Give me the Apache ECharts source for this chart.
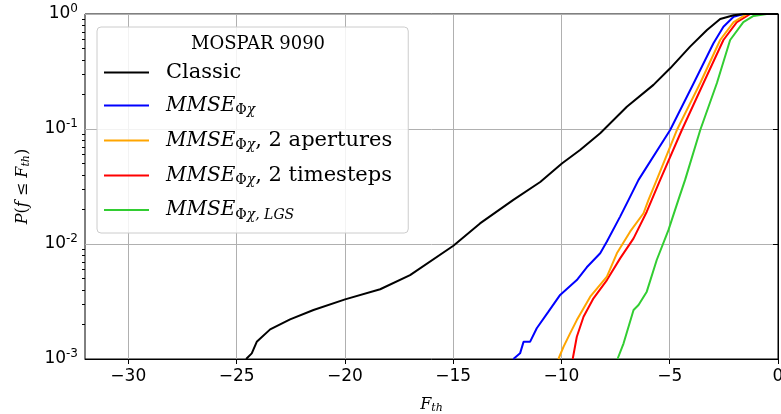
<!DOCTYPE html>
<html>
<head>
<meta charset="utf-8">
<script src="https://cdn.jsdelivr.net/npm/echarts@6/dist/echarts.min.js"></script>
<style>
  html, body { margin: 0; padding: 0; background: #fff; }
  #chart { width: 781px; height: 414px; }
</style>
</head>
<body>
<div id="chart"></div>
<script>
const classicX = [-24.56, -24.3, -24.07, -23.45, -22.53, -21.45, -19.99, -18.37, -16.99, -14.99, -13.76, -12.22, -10.98, -9.98, -9.14, -8.21, -6.98, -5.75, -4.98, -4.06, -3.28, -2.67, -2.05, -1.6, 0];
const classicP = [0.001, 0.00112, 0.00141, 0.00181, 0.00221, 0.00267, 0.0033, 0.00404, 0.00537, 0.00966, 0.0151, 0.0242, 0.0346, 0.0501, 0.0656, 0.0918, 0.156, 0.242, 0.337, 0.52, 0.726, 0.906, 0.975, 1.0, 1.0];

const mmseX = [-12.22, -11.91, -11.75, -11.45, -11.14, -10.6, -10.06, -9.29, -8.83, -8.21, -7.9, -7.29, -6.9, -6.44, -4.98, -3.9, -2.98, -2.52, -2.05, -1.6, 0];
const mmseP = [0.001, 0.00112, 0.00141, 0.00141, 0.00185, 0.00258, 0.00361, 0.00486, 0.00627, 0.0083, 0.0105, 0.0173, 0.0242, 0.0361, 0.098, 0.249, 0.556, 0.776, 0.948, 1.0, 1.0];

const apertX = [-10.14, -9.9, -9.6, -9.29, -8.67, -7.9, -7.44, -6.83, -6.21, -5.98, -5.6, -4.67, -3.59, -2.67, -2.05, -1.44, 0];
const apertP = [0.001, 0.00128, 0.00167, 0.00218, 0.00348, 0.0052, 0.0083, 0.0128, 0.0185, 0.0242, 0.0361, 0.098, 0.251, 0.594, 0.851, 1.0, 1.0];

const tstepX = [-9.48, -9.29, -8.98, -8.52, -7.9, -7.29, -6.67, -6.06, -5.83, -5.44, -4.44, -3.44, -2.52, -1.9, -1.28, 0];
const tstepP = [0.001, 0.00156, 0.00233, 0.00337, 0.00486, 0.0075, 0.0112, 0.0191, 0.0242, 0.0361, 0.098, 0.251, 0.594, 0.851, 1.0, 1.0];

const lgsX = [-7.41, -7.13, -6.67, -6.44, -6.06, -5.6, -5.06, -4.6, -4.29, -3.59, -2.82, -2.21, -1.6, -1.13, -0.52, 0];
const lgsP = [0.001, 0.00137, 0.00267, 0.00295, 0.00385, 0.00726, 0.0132, 0.0242, 0.0361, 0.098, 0.251, 0.594, 0.851, 0.962, 1.0, 1.0];

const xTicks = [-30, -25, -20, -15, -10, -5, 0];
const yTicks = [0.001, 0.01, 0.1, 1];
const yMinor = [0.002, 0.003, 0.004, 0.005, 0.006, 0.007, 0.008, 0.009,
                0.02, 0.03, 0.04, 0.05, 0.06, 0.07, 0.08, 0.09,
                0.2, 0.3, 0.4, 0.5, 0.6, 0.7, 0.8, 0.9];

const names = ['Classic', 'MMSE', 'MMSE2ap', 'MMSE2ts', 'MMSELGS'];
const colors = ['#000000', '#0000ff', '#ffa500', '#ff0000', '#32cd32'];

function pairs(xs, ps) {
  return xs.map((x, i) => [x, ps[i]]);
}

const serif = 'DejaVu Serif';
const sans = 'DejaVu Sans';

const legendLabels = {
  Classic: '{n|Classic}',
  MMSE: '{m|MMSE}{p|Φ}{c|χ}',
  MMSE2ap: '{m|MMSE}{p|Φ}{c|χ}{n|, 2 apertures}',
  MMSE2ts: '{m|MMSE}{p|Φ}{c|χ}{n|, 2 timesteps}',
  MMSELGS: '{m|MMSE}{p|Φ}{c|χ, LGS}'
};

let chart = echarts.init(document.getElementById('chart'));

const seriesData = [
  pairs(classicX, classicP),
  pairs(mmseX, mmseP),
  pairs(apertX, apertP),
  pairs(tstepX, tstepP),
  pairs(lgsX, lgsP)
];

chart.setOption({
  animation: false,
  grid: {
    left: 85, right: 3, top: 14, bottom: 55,
    outerBoundsMode: 'none',
    containLabel: false,
    show: true,
    borderColor: '#000',
    borderWidth: 1
  },
  title: {
    text: 'MOSPAR 9090',
    left: 253,
    top: 30,
    textAlign: 'center',
    textStyle: {
      fontFamily: serif,
      fontWeight: 'normal',
      fontSize: 18,
      color: '#000'
    },
    z: 10
  },
  legend: {
    orient: 'vertical',
    left: 97,
    top: 27,
    padding: [35, 16, 11, 7],
    icon: 'rect',
    itemWidth: 45,
    itemHeight: 2,
    itemGap: 12.5,
    backgroundColor: 'rgba(255,255,255,0.85)',
    borderColor: '#cccccc',
    borderWidth: 1,
    borderRadius: 4,
    data: names,
    formatter: n => legendLabels[n],
    textStyle: {
      color: '#000',
      padding: [0, 0, 0, 12],
      rich: {
        n: { fontFamily: serif, fontSize: 21, color: '#000', lineHeight: 24 },
        m: { fontFamily: serif, fontStyle: 'italic', fontSize: 20, color: '#000', lineHeight: 24 },
        p: { fontFamily: serif, fontSize: 14, color: '#000', padding: [10, 0, 0, 0] },
        c: { fontFamily: serif, fontStyle: 'italic', fontSize: 14, color: '#000', padding: [10, 0, 0, 0] }
      }
    }
  },
  xAxis: {
    type: 'value',
    min: -32,
    max: 0,
    name: '{i|F}{s|th}',
    nameLocation: 'middle',
    nameGap: 36,
    nameTextStyle: {
      rich: {
        i: { fontFamily: serif, fontStyle: 'italic', fontSize: 16, color: '#000' },
        s: { fontFamily: serif, fontStyle: 'italic', fontSize: 11, color: '#000', padding: [8, 0, 0, 0] }
      }
    },
    axisLine: { onZero: false, lineStyle: { color: '#000', width: 1 } },
    axisTick: { show: true, length: 5, customValues: xTicks, lineStyle: { color: '#000' } },
    axisLabel: {
      customValues: xTicks,
      margin: 9,
      fontFamily: sans,
      fontSize: 17,
      color: '#000',
      formatter: v => String(v).replace('-', '\u2212')
    },
    splitLine: { show: true, lineStyle: { color: '#b0b0b0', width: 1 } }
  },
  yAxis: [
    {
      type: 'log',
      logBase: 10,
      min: 0.001,
      max: 1,
      name: '{i|P}{r|(}{i|f}{r| ≤ }{i|F}{s|th}{r|)}',
      nameLocation: 'middle',
      nameGap: 53,
      nameRotate: 90,
      nameTextStyle: {
        rich: {
          i: { fontFamily: serif, fontStyle: 'italic', fontSize: 16, color: '#000' },
          r: { fontFamily: serif, fontSize: 16, color: '#000' },
          s: { fontFamily: serif, fontStyle: 'italic', fontSize: 11, color: '#000', padding: [8, 0, 0, 0] }
        }
      },
      axisLine: { show: true, lineStyle: { color: '#000', width: 1 } },
      axisTick: { show: true, length: 5, customValues: yTicks, lineStyle: { color: '#000' } },
      axisLabel: {
        customValues: yTicks,
        margin: 7,
        formatter: v => '{b|10}{e|' + Math.round(Math.log10(v)) + '}',
        rich: {
          b: { fontFamily: sans, fontSize: 17, color: '#000' },
          e: { fontFamily: sans, fontSize: 12, color: '#000', padding: [0, 0, 10, 0] }
        }
      },
      splitLine: { show: true, lineStyle: { color: '#b0b0b0', width: 1 } }
    },
    {
      type: 'log',
      logBase: 10,
      min: 0.001,
      max: 1,
      position: 'left',
      axisLine: { show: false },
      axisTick: { show: true, length: 3, customValues: yMinor, lineStyle: { color: '#000' } },
      axisLabel: { show: false },
      splitLine: { show: false }
    }
  ],
  series: names.map((n, i) => ({
    name: n,
    type: 'line',
    data: seriesData[i],
    symbol: 'none',
    color: colors[i],
    lineStyle: { width: 2, color: colors[i] },
    z: 5 - i
  }))
});
</script>
</body>
</html>
